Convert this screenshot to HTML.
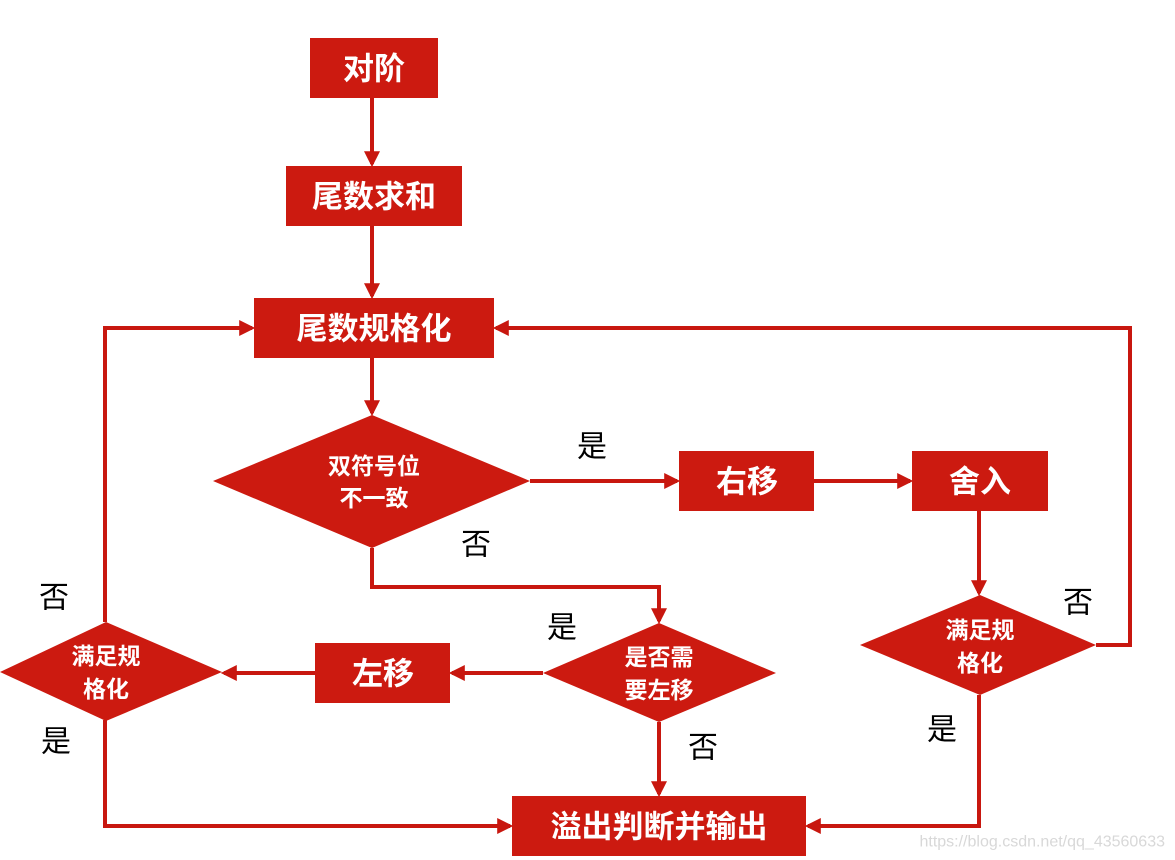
<!DOCTYPE html>
<html><head><meta charset="utf-8"><style>
html,body{margin:0;padding:0;background:#fff;width:1175px;height:860px;overflow:hidden}
svg text{font-family:"Liberation Sans","Noto Sans CJK SC",sans-serif}
.bt{fill:#fff;font-weight:bold;font-size:31px;text-anchor:middle;dominant-baseline:central}
.dt{fill:#fff;font-weight:bold;font-size:23px;text-anchor:middle;dominant-baseline:central}
.lb{fill:#000;font-size:30px;text-anchor:middle;dominant-baseline:central}
</style></head><body>
<svg width="1175" height="860" viewBox="0 0 1175 860" xmlns="http://www.w3.org/2000/svg">
<defs><marker id="a" markerWidth="4" markerHeight="4" refX="3.2" refY="2" orient="auto" markerUnits="strokeWidth"><path d="M0,0 L4,2 L0,4 z" fill="#c8170f"/></marker></defs>
<g stroke="#c8170f" stroke-width="4" fill="none" marker-end="url(#a)">
<path d="M372,98 V164"/>
<path d="M372,226 V296"/>
<path d="M372,358 V413"/>
<path d="M530,481 H677"/>
<path d="M814,481 H910"/>
<path d="M979,511 V593"/>
<path d="M1096,645 H1130 V328 H496"/>
<path d="M372,548 V587 H659 V621"/>
<path d="M543,673 H452"/>
<path d="M315,673 H224"/>
<path d="M105,622 V328 H252"/>
<path d="M105,720 V826 H510"/>
<path d="M659,722 V794"/>
<path d="M979,695 V826 H808"/>
</g>
<g fill="#cc1a10">
<rect x="310" y="38" width="128" height="60"/>
<rect x="286" y="166" width="176" height="60"/>
<rect x="254" y="298" width="240" height="60"/>
<rect x="679" y="451" width="135" height="60"/>
<rect x="912" y="451" width="136" height="60"/>
<rect x="315" y="643" width="135" height="60"/>
<rect x="512" y="796" width="294" height="60"/>
<polygon points="213,481 372,415 530,481 372,548"/>
<polygon points="543,673 659,623 776,673 659,722"/>
<polygon points="0,672 106,622 222,672 106,721"/>
<polygon points="860,645 980,595 1096,645 980,695"/>
</g>
<text class="bt" x="374" y="69">对阶</text>
<text class="bt" x="374" y="197">尾数求和</text>
<text class="bt" x="374" y="329">尾数规格化</text>
<text class="bt" x="747" y="482">右移</text>
<text class="bt" x="980" y="482">舍入</text>
<text class="bt" x="383" y="674">左移</text>
<text class="bt" x="659" y="827">溢出判断并输出</text>
<text class="dt" x="374" y="466">双符号位</text>
<text class="dt" x="374" y="498">不一致</text>
<text class="dt" x="659" y="657">是否需</text>
<text class="dt" x="659" y="690">要左移</text>
<text class="dt" x="106" y="656">满足规</text>
<text class="dt" x="106" y="689">格化</text>
<text class="dt" x="980" y="630">满足规</text>
<text class="dt" x="980" y="663">格化</text>
<text class="lb" x="592" y="447">是</text>
<text class="lb" x="476" y="545">否</text>
<text class="lb" x="54" y="598">否</text>
<text class="lb" x="562" y="628">是</text>
<text class="lb" x="1078" y="603">否</text>
<text class="lb" x="56" y="742">是</text>
<text class="lb" x="703" y="748">否</text>
<text class="lb" x="942" y="730">是</text>
<text x="1165" y="842" font-size="16" fill="#d8d8d8" text-anchor="end" dominant-baseline="central">https://blog.csdn.net/qq_43560633</text>
</svg>
</body></html>
